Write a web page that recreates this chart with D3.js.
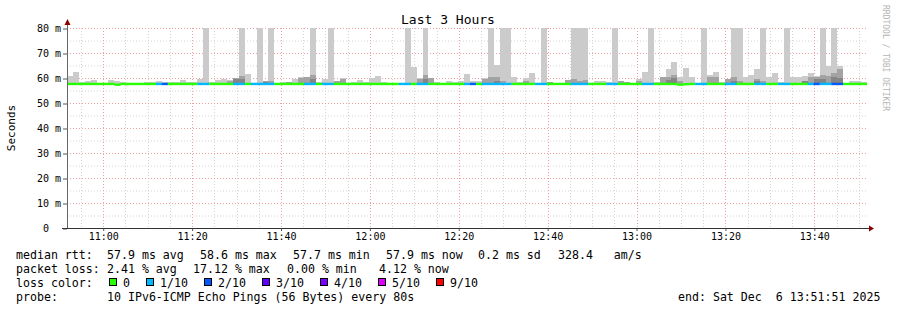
<!DOCTYPE html>
<html>
<head>
<meta charset="utf-8">
<script src="https://cdn.jsdelivr.net/npm/d3@7"></script>
<style>
  body { margin: 0; background: #fff; }
  svg { display: block; }
  text { font-family: "DejaVu Sans Mono", monospace; white-space: pre; }
</style>
</head>
<body>
<svg id="chart" width="897" height="310"></svg>
<script>
// Time window of the graph (3 hours, one sample every 80s)
const startTime = new Date(2025, 11, 6, 10, 51, 51);
const endTime = new Date(2025, 11, 6, 13, 51, 51);
const stepSec = 80;

// Highest ping of each sample (ms), values above 80 are clipped
const smokeMax = [
  60.9, 62.5, 58.4, 58.8, 59.2, 58.0, 58.0, 59.2, 58.8, 58.4,
  58.0, 58.0, 58.0, 58.4, 58.4, 58.8, 58.4, 58.4, 58.4, 59.2,
  58.4, 58.4, 59.6, 85, 58.4, 59.2, 59.6, 59.2, 60.0, 85,
  61.6, 58.0, 85, 58.8, 85, 58.0, 58.4, 58.4, 59.6, 60.5,
  60.5, 85, 58.4, 59.6, 85, 59.0, 59.9, 58.0, 58.4, 59.3,
  58.4, 59.9, 60.9, 58.4, 58.0, 58.0, 58.0, 85, 64.5, 60.0,
  85, 60.0, 58.4, 58.0, 58.8, 58.4, 58.8, 61.6, 58.7, 58.7,
  60.0, 85, 65.2, 85, 85, 60.5, 58.4, 60.0, 61.9, 58.0,
  85, 58.4, 58.0, 58.0, 59.2, 85, 85, 85, 58.0, 58.7,
  58.7, 58.4, 85, 58.7, 58.4, 58.0, 59.6, 62.4, 85, 58.4,
  58.4, 63.7, 66.5, 60.3, 64.1, 60.3, 58.0, 85, 61.3, 62.4,
  58.4, 59.6, 85, 85, 60.3, 61.3, 63.7, 85, 60.3, 62.0,
  58.4, 85, 60.5, 60.5, 60.9, 62.0, 60.9, 85, 64.9, 85,
  64.9, 58.0, 58.7, 58.7, 58.4
];

// Inner pings (medium smoke), sparse: sample index -> ms
const smokeMid = {
  27: 58.8, 28: 60.0, 29: 60.9, 33: 58.8, 34: 58.7, 37: 58.4, 39: 60.0, 40: 60.5,
  41: 61.3, 45: 58.8, 46: 59.5, 59: 59.7, 60: 61.3, 61: 60.0, 70: 59.7, 71: 60.3,
  72: 60.5, 73: 58.7, 77: 58.7, 81: 58.4, 84: 59.2, 85: 59.6, 86: 58.7, 87: 59.2,
  93: 58.7, 94: 58.4, 96: 58.7, 100: 60.3, 101: 60.5, 102: 61.3, 103: 58.7,
  108: 60.3, 109: 60.5, 111: 59.6, 112: 60.3, 113: 58.9, 116: 59.6, 117: 58.9,
  124: 58.8, 125: 60.3, 126: 60.5, 127: 61.3, 128: 60.9, 129: 62.0, 130: 63.6
};

// Innermost pings (dark smoke)
const smokeDark = {
  28: 59.6, 29: 59.6, 33: 58.6, 41: 59.6, 60: 59.6, 72: 58.8, 101: 59.2,
  102: 60.0, 112: 59.0, 116: 59.0, 124: 58.7, 126: 59.6, 127: 59.8,
  129: 60.4, 130: 60.0
};

// Median rtt per sample, mostly flat
const medianLow = { 8: 57.4, 103: 57.4, 104: 57.6 };
const medianDefault = 57.7;

// Lost pings per sample (index into lossColors)
const lossIdx = {
  15: 1, 16: 2, 22: 1, 23: 1, 28: 1, 29: 1, 31: 1, 32: 1, 33: 1, 34: 1,
  40: 1, 41: 1, 43: 1, 44: 1, 56: 1, 57: 1, 59: 1, 60: 1, 67: 1, 68: 2,
  70: 1, 71: 1, 72: 1, 73: 1, 74: 1, 79: 1, 80: 1, 85: 1, 86: 1, 87: 1,
  91: 1, 92: 1, 97: 1, 98: 1, 106: 1, 107: 1, 111: 1, 112: 1, 116: 1, 117: 1,
  120: 1, 121: 1, 125: 1, 126: 2, 127: 1, 128: 1, 129: 2, 130: 2
};

const lossLabels = ["0", "1/10", "2/10", "3/10", "4/10", "5/10", "9/10"];
const lossColors = ["#26ff00", "#00b8ff", "#0059ff", "#5e00ff", "#7e00ff", "#dd00ff", "#ff0000"];

const yTickValues = [0, 10, 20, 30, 40, 50, 60, 70, 80];
const yTickLabels = [" 0  ", "10 m", "20 m", "30 m", "40 m", "50 m", "60 m", "70 m", "80 m"];

// Legend text rows
const legendRtt = [["median rtt:", 16], ["57.9 ms avg", 107], ["58.6 ms max", 200], ["57.7 ms min", 293], ["57.9 ms now", 386], ["0.2 ms sd", 478], ["328.4   am/s", 558]];
const legendLoss = [["packet loss:", 16], ["2.41 % avg", 107], ["17.12 % max", 193], ["0.00 % min", 287], ["4.12 % now", 379]];
const legendProbe = [["probe:", 16], ["10 IPv6-ICMP Echo Pings (56 Bytes) every 80s", 107], ["end: Sat Dec  6 13:51:51 2025", 678]];

const svg = d3.select("#chart");
const pLeft = 67, pRight = 867, pTop = 28, pBottom = 228;

const x = d3.scaleTime().domain([startTime, endTime]).range([pLeft, pRight]);
const y = d3.scaleLinear().domain([0, 80]).range([pBottom, pTop]);

// Build samples
const samples = smokeMax.map((mx, i) => {
  let t0 = new Date(startTime.getTime() + i * stepSec * 1000);
  let t1 = new Date(t0.getTime() + stepSec * 1000);
  return {
    t0: t0, t1: t1, max: mx,
    mid: smokeMid[i], dark: smokeDark[i],
    median: medianLow[i] !== undefined ? medianLow[i] : medianDefault,
    loss: lossIdx[i] || 0
  };
});

// Grid
const grid = svg.append("g");
// minor grid, every 5 ms / 5 min
grid.selectAll(".hmin").data(d3.range(5, 80, 10)).join("line")
  .attr("x1", pLeft).attr("x2", pRight)
  .attr("y1", d => y(d) + 0.5).attr("y2", d => y(d) + 0.5)
  .attr("stroke", "#d4d4d4").attr("stroke-dasharray", "1,2");
const minuteTicks = x.ticks(d3.timeMinute.every(5));
grid.selectAll(".vmin").data(minuteTicks.filter(d => d.getMinutes() % 20 != 0)).join("line")
  .attr("x1", d => Math.round(x(d)) + 0.5).attr("x2", d => Math.round(x(d)) + 0.5)
  .attr("y1", pTop).attr("y2", pBottom)
  .attr("stroke", "#d4d4d4").attr("stroke-dasharray", "1,2");
// major grid, every 10 ms / 20 min
grid.selectAll(".hmaj").data(yTickValues.slice(1)).join("line")
  .attr("x1", pLeft).attr("x2", pRight)
  .attr("y1", d => y(d) + 0.5).attr("y2", d => y(d) + 0.5)
  .attr("stroke", "#f0a0a0").attr("stroke-dasharray", "1,2");
const majorTicks = x.ticks(d3.timeMinute.every(20));
grid.selectAll(".vmaj").data(majorTicks).join("line")
  .attr("x1", d => Math.round(x(d)) + 0.5).attr("x2", d => Math.round(x(d)) + 0.5)
  .attr("y1", pTop).attr("y2", pBottom)
  .attr("stroke", "#f0a0a0").attr("stroke-dasharray", "1,2");

// Smoke
svg.append("clipPath").attr("id", "plotclip")
  .append("rect").attr("x", pLeft).attr("y", pTop).attr("width", pRight - pLeft).attr("height", pBottom - pTop);
const plot = svg.append("g").attr("clip-path", "url(#plotclip)");
const smokeBase = 57.6;

plot.selectAll(".smoke").data(samples).join("rect")
  .attr("x", d => x(d.t0)).attr("width", d => x(d.t1) - x(d.t0))
  .attr("y", d => y(d.max)).attr("height", d => Math.max(0, y(smokeBase) - y(d.max)))
  .attr("fill", "#cbcbcb").attr("shape-rendering", "crispEdges");
plot.selectAll(".smokemid").data(samples.filter(d => d.mid)).join("rect")
  .attr("x", d => x(d.t0)).attr("width", d => x(d.t1) - x(d.t0))
  .attr("y", d => y(d.mid)).attr("height", d => y(smokeBase) - y(d.mid))
  .attr("fill", "#a3a3a3").attr("shape-rendering", "crispEdges");
plot.selectAll(".smokedark").data(samples.filter(d => d.dark)).join("rect")
  .attr("x", d => x(d.t0)).attr("width", d => x(d.t1) - x(d.t0))
  .attr("y", d => y(d.dark)).attr("height", d => y(smokeBase) - y(d.dark))
  .attr("fill", "#858585").attr("shape-rendering", "crispEdges");

// Median line coloured by loss
plot.selectAll(".median").data(samples).join("rect")
  .attr("x", d => x(d.t0)).attr("width", d => x(d.t1) - x(d.t0) + 0.3)
  .attr("y", d => y(d.median) - 1).attr("height", 2.4)
  .attr("fill", d => lossColors[d.loss]);

// Axes
const yAxis = d3.axisLeft(y).tickValues(yTickValues).tickSize(4)
  .tickFormat((d, i) => yTickLabels[i]);
const gy = svg.append("g").attr("transform", `translate(${pLeft},0)`).call(yAxis);
gy.select(".domain").remove();
gy.selectAll(".tick line").attr("stroke", "#555").attr("transform", "translate(0,0.5)");
gy.selectAll(".tick text").attr("font-size", "10px").attr("fill", "#000")
  .attr("x", -6).attr("font-family", "DejaVu Sans Mono").style("white-space", "pre");

const xAxis = d3.axisBottom(x).ticks(d3.timeMinute.every(20)).tickSize(3)
  .tickFormat(d3.timeFormat("%H:%M"));
const gx = svg.append("g").attr("transform", `translate(0,${pBottom})`).call(xAxis);
gx.select(".domain").remove();
gx.selectAll(".tick line").attr("stroke", "#555");
gx.selectAll(".tick text").attr("font-size", "10px").attr("fill", "#000")
  .attr("y", 5).attr("font-family", "DejaVu Sans Mono");

// axis lines and arrows
svg.append("line").attr("x1", pLeft + 0.5).attr("x2", pLeft + 0.5).attr("y1", 24).attr("y2", pBottom + 1)
  .attr("stroke", "#666");
svg.append("line").attr("x1", 62).attr("x2", pRight + 3).attr("y1", pBottom + 0.5).attr("y2", pBottom + 0.5)
  .attr("stroke", "#333");
svg.append("path").attr("d", `M${pLeft - 2.5},${25} L${pLeft + 3.5},${25} L${pLeft + 0.5},${19} Z`).attr("fill", "#8b0000");
svg.append("path").attr("d", `M${pRight + 2},${pBottom - 2.5} L${pRight + 2},${pBottom + 3.5} L${pRight + 7},${pBottom + 0.5} Z`).attr("fill", "#8b0000");

// Title and labels
svg.append("text").attr("x", 448).attr("y", 24).attr("text-anchor", "middle")
  .attr("font-size", "13px").text("Last 3 Hours");
svg.append("text").attr("transform", "translate(15,128) rotate(-90)").attr("text-anchor", "middle")
  .attr("font-size", "11px").text("Seconds");
svg.append("text").attr("transform", "translate(883,5) rotate(90)")
  .attr("font-size", "8px").attr("fill", "#b4b4b4").text("RRDTOOL / TOBI OETIKER");

// Legend
function legendRow(items, yPos){
  items.forEach(it => {
    svg.append("text").attr("x", it[1]).attr("y", yPos).attr("font-size", "11.6px").text(it[0]);
  });
}
legendRow(legendRtt, 258.5);
legendRow(legendLoss, 272.5);
legendRow([["loss color:", 16]], 286.5);
legendRow(legendProbe, 300.5);

let lx = 109;
lossLabels.forEach((lab, i) => {
  svg.append("rect").attr("x", lx + 0.5).attr("y", 278.5).attr("width", 7).attr("height", 7)
    .attr("fill", lossColors[i]).attr("stroke", "#000").attr("stroke-width", 1);
  svg.append("text").attr("x", lx + 14).attr("y", 286.5).attr("font-size", "11.6px").text(lab);
  lx = lx + 14 + lab.length * 7 + 16;
});
</script>
</body>
</html>
